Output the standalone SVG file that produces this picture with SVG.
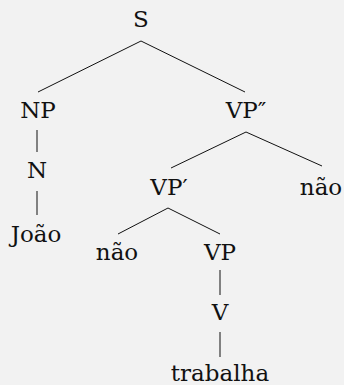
<svg xmlns="http://www.w3.org/2000/svg" width="344" height="385" viewBox="0 0 344 385">
<style>
.t{font-family:"DejaVu Serif",serif;font-size:23px;fill:#111;text-anchor:middle}
.e{stroke:#111;stroke-width:1;fill:none}
</style>
<rect width="344" height="385" fill="#f2f2f2"/>
<g id="connectors" class="e">
<line x1="141" y1="41" x2="38" y2="92"/>
<line x1="141" y1="41" x2="245" y2="92"/>
<line x1="37" y1="130" x2="37" y2="152"/>
<line x1="37" y1="191" x2="37" y2="215"/>
<line x1="246" y1="132" x2="171" y2="168"/>
<line x1="246" y1="132" x2="322" y2="166"/>
<line x1="168" y1="208" x2="118" y2="234"/>
<line x1="168" y1="208" x2="220" y2="234"/>
<line x1="220" y1="270" x2="220" y2="295"/>
<line x1="220" y1="332" x2="220" y2="357"/>
</g>
<g id="S"><text class="t" x="141" y="27">S</text></g>
<g id="NP"><text class="t" x="38" y="118">NP</text></g>
<g id="VP2"><text class="t" x="246" y="118">VP″</text></g>
<g id="N"><text class="t" x="37" y="178">N</text></g>
<g id="VP1"><text class="t" x="169" y="195">VP′</text></g>
<g id="nao2"><text class="t" x="321" y="195">não</text></g>
<g id="Joao"><text class="t" x="36" y="242">João</text></g>
<g id="nao1"><text class="t" x="117" y="260">não</text></g>
<g id="VP"><text class="t" x="220" y="260">VP</text></g>
<g id="V"><text class="t" x="220" y="320">V</text></g>
<g id="trabalha"><text class="t" x="220" y="381">trabalha</text></g>
</svg>
